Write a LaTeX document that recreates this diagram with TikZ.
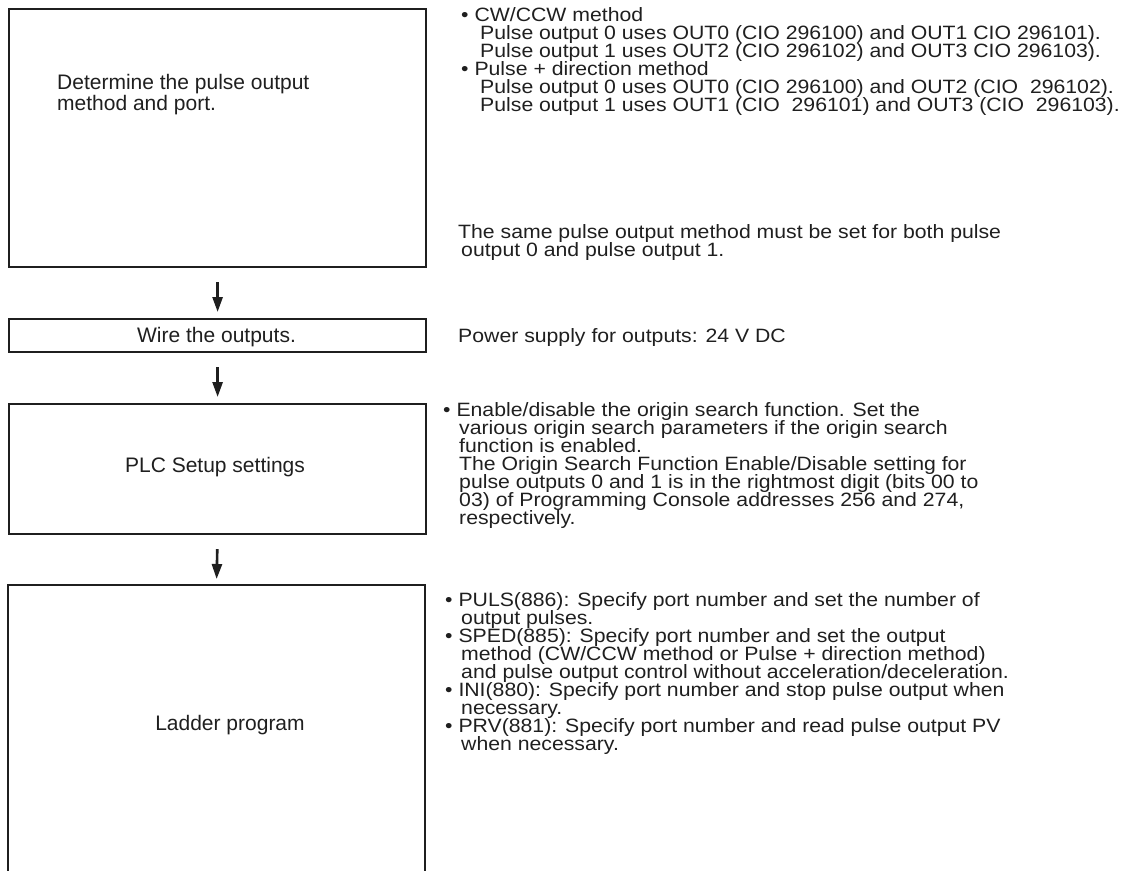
\documentclass[tikz,border=0pt]{standalone}
\usepackage{fontspec}
\setmainfont{Liberation Sans}
\newfontfamily\widefam[FakeStretch=1.1]{Liberation Sans}
\usetikzlibrary{arrows.meta}
\newcommand\notefont{\widefam\fontsize{19.3}{18}\selectfont}
\newcommand\boxfont{\fontsize{21}{21}\selectfont}
\tikzset{
  stepbox/.style={draw=black!88, line width=2.2pt},
  flow/.style={draw=black!88, line width=2.6pt, -{Triangle[length=15pt,width=10pt]}, shorten <=14pt, shorten >=6pt},
  note/.style={anchor=base west, inner sep=0pt, font=\notefont, text=black!88},
  label/.style={inner sep=0pt, font=\boxfont, text=black!88},
}
\begin{document}
\begin{tikzpicture}[x=1pt, y=-1pt]
\useasboundingbox (0,0) rectangle (1131,870);
% boxes
\node[stepbox, minimum width=417pt, minimum height=258pt, anchor=north west, inner sep=0] (b1) at (8,8) {};
\node[label, anchor=base west, align=left] (t1) at (57,110) {Determine the pulse output\\method and port.};
\node[stepbox, minimum width=417pt, minimum height=33pt, anchor=north west, inner sep=0] (b2) at (8,318) {};
\node[label, anchor=base] (t2) at (216.5,342) {Wire the outputs.};
\node[stepbox, minimum width=417pt, minimum height=130pt, anchor=north west, inner sep=0] (b3) at (8,403) {};
\node[label, anchor=base] (t3) at (215,472) {PLC Setup settings};
\coordinate (b4) at (216.5,585);
\draw[stepbox] (8,875) -- (8,585) -- (425,585) -- (425,875);
\node[label, anchor=base] (t4) at (230,730) {Ladder program};
% arrows
\draw[flow] (b1.south) -- (b2.north);
\draw[flow] (b2.south) -- (b3.north);
\draw[flow] (b3.south) -- (b4);
% notes
\node[note] (n1) at (461,21.5) {• CW/CCW method};
\node[note] (n2) at (480,39.5) {Pulse output 0 uses OUT0 (CIO 296100) and OUT1 CIO 296101).};
\node[note] (n3) at (480,57.5) {Pulse output 1 uses OUT2 (CIO 296102) and OUT3 CIO 296103).};
\node[note] (n4) at (461,75.5) {• Pulse + direction method};
\node[note] (n5) at (480,93.5) {Pulse output 0 uses OUT0 (CIO 296100) and OUT2 (CIO\ \ 296102).};
\node[note] (n6) at (480,111.5) {Pulse output 1 uses OUT1 (CIO\ \ 296101) and OUT3 (CIO\ \ 296103).};
\node[note] (n7) at (458,238.5) {The same pulse output method must be set for both pulse};
\node[note] (n8) at (461,256.5) {output 0 and pulse output 1.};
\node[note] (n9) at (458,342) {Power supply for outputs: 24 V DC};
\node[note] (n10) at (443,416.5) {• Enable/disable the origin search function. Set the};
\node[note] (n11) at (459,434.5) {various origin search parameters if the origin search};
\node[note] (n12) at (459,452.5) {function is enabled.};
\node[note] (n13) at (459,470.5) {The Origin Search Function Enable/Disable setting for};
\node[note] (n14) at (459,488.5) {pulse outputs 0 and 1 is in the rightmost digit (bits 00 to};
\node[note] (n15) at (459,506.5) {03) of Programming Console addresses 256 and 274,};
\node[note] (n16) at (459,524.5) {respectively.};
\node[note] (n17) at (445,606.5) {• PULS(886): Specify port number and set the number of};
\node[note] (n18) at (461,624.5) {output pulses.};
\node[note] (n19) at (445,642.5) {• SPED(885): Specify port number and set the output};
\node[note] (n20) at (461,660.5) {method (CW/CCW method or Pulse + direction method)};
\node[note] (n21) at (461,678.5) {and pulse output control without acceleration/deceleration.};
\node[note] (n22) at (445,696.5) {• INI(880): Specify port number and stop pulse output when};
\node[note] (n23) at (461,714.5) {necessary.};
\node[note] (n24) at (445,732.5) {• PRV(881): Specify port number and read pulse output PV};
\node[note] (n25) at (461,750.5) {when necessary.};
\end{tikzpicture}
\end{document}
